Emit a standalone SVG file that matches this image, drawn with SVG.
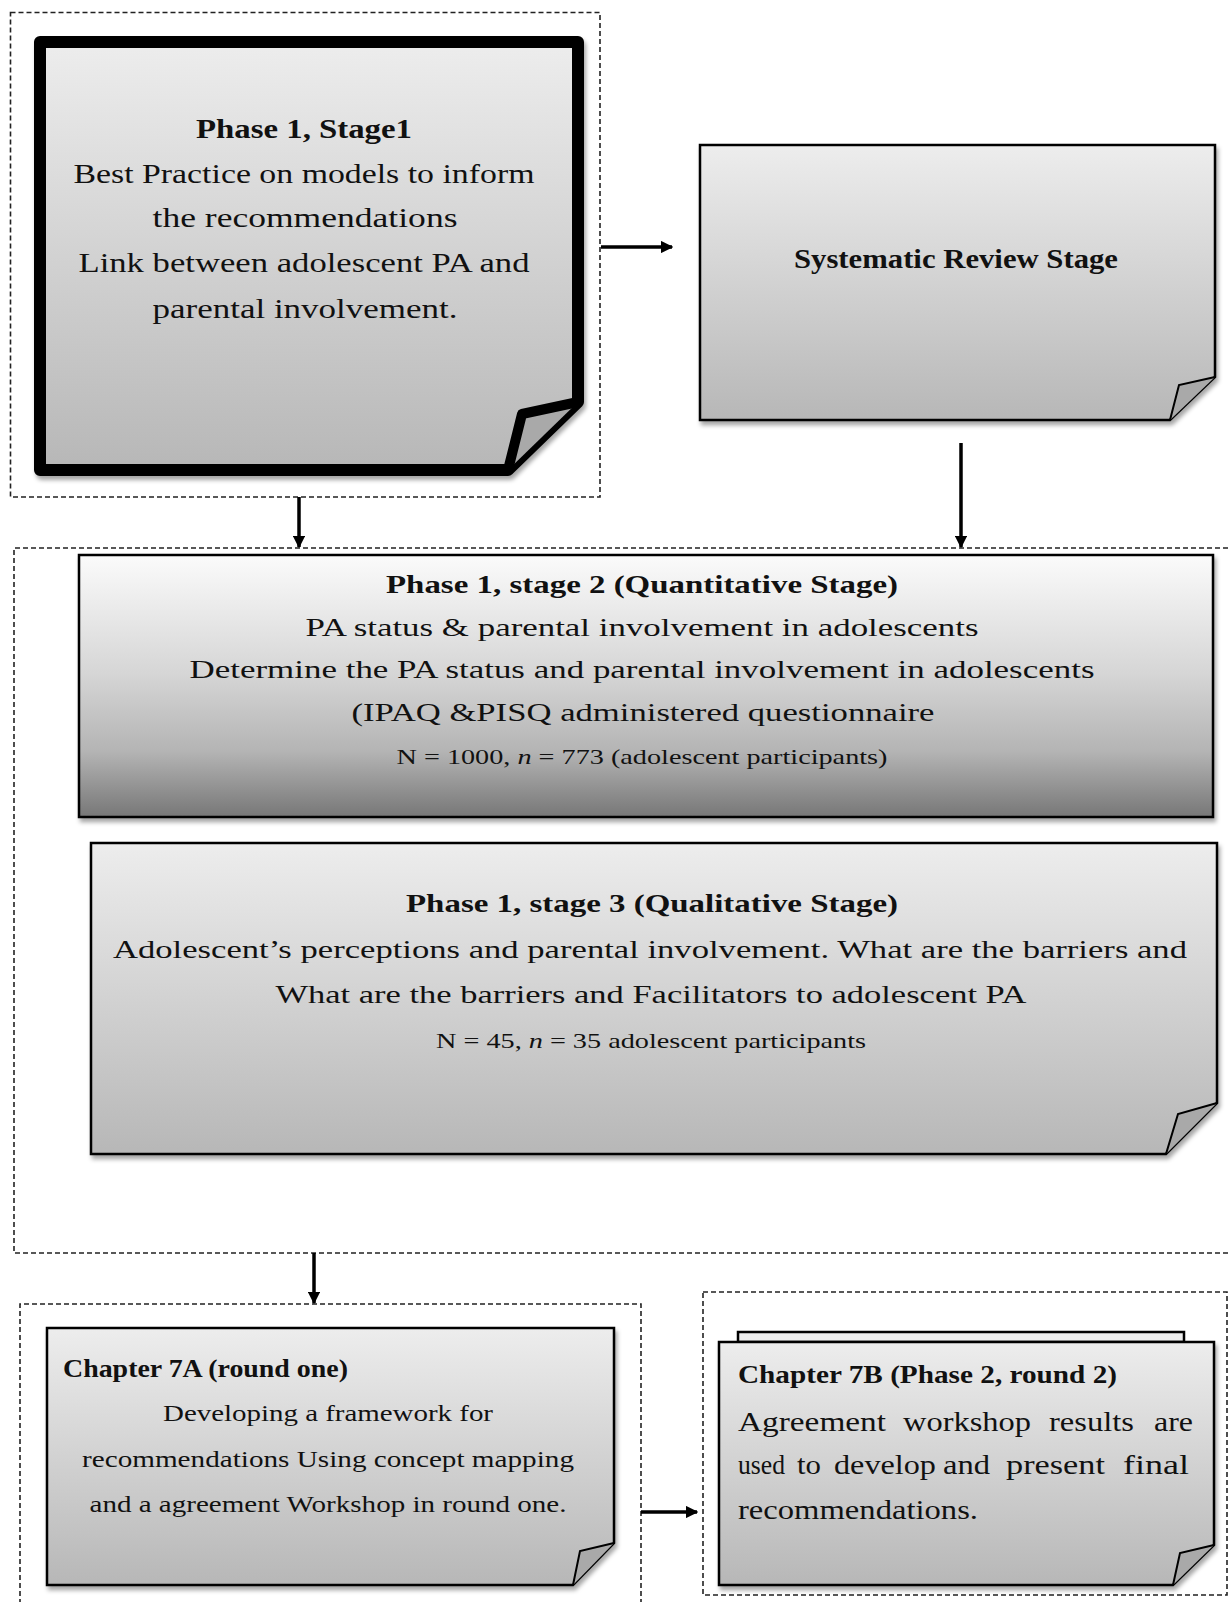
<svg xmlns="http://www.w3.org/2000/svg" width="1231" height="1602" viewBox="0 0 1231 1602">
<style>
.dash{fill:none;stroke:#222;stroke-width:1.6;stroke-dasharray:5,3}
.node{stroke:#000;stroke-width:2.5;stroke-linejoin:miter}
.fold{fill:#a9a9a9;stroke:#000;stroke-width:2}
.conn{stroke:#000;stroke-width:3.5;fill:none}
text{font-family:"Liberation Serif","Times New Roman",serif;fill:#111}
.c{text-anchor:middle}
.b{font-weight:bold}
</style>
<defs>
<linearGradient id="g1" x1="0" y1="0" x2="0" y2="1">
<stop offset="0" stop-color="#ededed"/><stop offset="1" stop-color="#b7b7b7"/>
</linearGradient>
<linearGradient id="g3" x1="0" y1="0" x2="0" y2="1">
<stop offset="0" stop-color="#fbfbfb"/><stop offset="0.45" stop-color="#d6d6d6"/><stop offset="0.75" stop-color="#b4b4b4"/><stop offset="1" stop-color="#777"/>
</linearGradient>
<filter id="sh" x="-5%" y="-5%" width="110%" height="115%">
<feDropShadow dx="2" dy="4" stdDeviation="2" flood-color="#000" flood-opacity="0.35"/>
</filter>
<marker id="ah" viewBox="0 0 10 10" refX="9" refY="5" markerWidth="3.6" markerHeight="3.6" orient="auto" markerUnits="strokeWidth">
<path d="M0,0 L10,5 L0,10 Z" fill="#000"/>
</marker>
</defs>

<g id="groups">
<rect class="dash" x="10.5" y="12.5" width="589.5" height="484.5"/>
<path class="dash" d="M1236,548 H14 V1253 H1236"/>
<path class="dash" d="M20,1620 V1304 H641 V1620"/>
<rect class="dash" x="703" y="1292" width="524" height="303"/>
</g>

<g id="connectors">
<line class="conn" x1="601" y1="247" x2="672" y2="247" marker-end="url(#ah)"/>
<line class="conn" x1="299" y1="497" x2="299" y2="547" marker-end="url(#ah)"/>
<line class="conn" x1="961" y1="443" x2="961" y2="547" marker-end="url(#ah)"/>
<line class="conn" x1="314" y1="1253" x2="314" y2="1303" marker-end="url(#ah)"/>
<line class="conn" x1="641" y1="1512" x2="697" y2="1512" marker-end="url(#ah)"/>
</g>

<g id="node1">
<path d="M40,42 H578 V402 L508,470 H40 Z" fill="url(#g1)" stroke="#000" stroke-width="12" stroke-linejoin="round" filter="url(#sh)"/>
<path d="M578,402 L522,414 L508,470" fill="#a9a9a9" stroke="#000" stroke-width="10" stroke-linejoin="round"/>
<text class="c b" x="304" y="138" font-size="27" textLength="216" lengthAdjust="spacingAndGlyphs">Phase 1, Stage1</text>
<text class="c" x="304" y="183" font-size="27" textLength="461" lengthAdjust="spacingAndGlyphs">Best Practice on models to inform</text>
<text class="c" x="305" y="227" font-size="27" textLength="305" lengthAdjust="spacingAndGlyphs">the recommendations</text>
<text class="c" x="304" y="272" font-size="27" textLength="451" lengthAdjust="spacingAndGlyphs">Link between  adolescent PA and</text>
<text class="c" x="305" y="318" font-size="27" textLength="305" lengthAdjust="spacingAndGlyphs">parental involvement.</text>
</g>

<g id="node2">
<path class="node" d="M700,145 H1215 V377 L1170,420 H700 Z" fill="url(#g1)" filter="url(#sh)"/>
<path class="fold" d="M1215,377 L1179,385 L1170,420"/>
<text class="c b" x="956" y="268" font-size="27" textLength="324" lengthAdjust="spacingAndGlyphs">Systematic Review Stage</text>
</g>

<g id="node3">
<rect class="node" x="79" y="555" width="1134" height="262" fill="url(#g3)" filter="url(#sh)"/>
<text class="c b" x="642" y="593" font-size="26" textLength="512" lengthAdjust="spacingAndGlyphs">Phase 1, stage 2 (Quantitative Stage)</text>
<text class="c" x="642" y="636" font-size="26" textLength="673" lengthAdjust="spacingAndGlyphs">PA status &amp; parental involvement in adolescents</text>
<text class="c" x="642" y="678" font-size="26" textLength="905" lengthAdjust="spacingAndGlyphs">Determine the PA status and parental involvement in adolescents</text>
<text class="c" x="643" y="721" font-size="26" textLength="583" lengthAdjust="spacingAndGlyphs">(IPAQ &amp;PISQ administered questionnaire</text>
<text class="c" x="642" y="764" font-size="22" textLength="491" lengthAdjust="spacingAndGlyphs">N = 1000, <tspan font-style="italic">n</tspan> = 773 (adolescent participants)</text>
</g>

<g id="node4">
<path class="node" d="M91,843 H1217 V1103 L1166,1154 H91 Z" fill="url(#g1)" filter="url(#sh)"/>
<path class="fold" d="M1217,1103 L1178,1114 L1166,1154"/>
<text class="c b" x="652" y="912" font-size="26" textLength="492" lengthAdjust="spacingAndGlyphs">Phase 1, stage 3 (Qualitative Stage)</text>
<text class="c" x="650" y="958" font-size="26" textLength="1074" lengthAdjust="spacingAndGlyphs">Adolescent’s perceptions and parental involvement. What are the barriers and</text>
<text class="c" x="651" y="1003" font-size="26" textLength="751" lengthAdjust="spacingAndGlyphs">What are the barriers and Facilitators to adolescent PA</text>
<text class="c" x="651" y="1048" font-size="22" textLength="430" lengthAdjust="spacingAndGlyphs">N = 45, <tspan font-style="italic">n</tspan> = 35 adolescent participants</text>
</g>

<g id="node5">
<path class="node" d="M47,1328 H614 V1543 L573,1585 H47 Z" fill="url(#g1)" filter="url(#sh)"/>
<path class="fold" d="M614,1543 L580,1551 L573,1585"/>
<text class="b" x="63" y="1377" font-size="25" textLength="285" lengthAdjust="spacingAndGlyphs">Chapter 7A (round one)</text>
<text class="c" x="328" y="1421" font-size="24" textLength="330" lengthAdjust="spacingAndGlyphs">Developing a framework for</text>
<text class="c" x="328" y="1467" font-size="24" textLength="492" lengthAdjust="spacingAndGlyphs">recommendations Using concept mapping</text>
<text class="c" x="328" y="1512" font-size="24" textLength="477" lengthAdjust="spacingAndGlyphs">and a agreement Workshop in round one.</text>
</g>

<g id="node6">
<rect x="738" y="1332" width="446" height="10" fill="#ececec" stroke="#000" stroke-width="2.5"/>
<path class="node" d="M719,1342 H1214 V1545 L1173,1585 H719 Z" fill="url(#g1)" filter="url(#sh)"/>
<path class="fold" d="M1214,1545 L1180,1553 L1173,1585"/>
<text class="b" x="738" y="1383" font-size="26" textLength="379" lengthAdjust="spacingAndGlyphs">Chapter 7B (Phase 2, round 2)</text>
<text y="1431" font-size="27" lengthAdjust="spacingAndGlyphs"><tspan x="738" textLength="148" lengthAdjust="spacingAndGlyphs">Agreement</tspan> <tspan x="903" textLength="128" lengthAdjust="spacingAndGlyphs">workshop</tspan> <tspan x="1049" textLength="85" lengthAdjust="spacingAndGlyphs">results</tspan> <tspan x="1154" textLength="39" lengthAdjust="spacingAndGlyphs">are</tspan></text>
<text y="1474" font-size="27"><tspan x="738" textLength="47" lengthAdjust="spacingAndGlyphs">used</tspan> <tspan x="797" textLength="24" lengthAdjust="spacingAndGlyphs">to</tspan> <tspan x="834" textLength="102" lengthAdjust="spacingAndGlyphs">develop</tspan> <tspan x="943" textLength="47" lengthAdjust="spacingAndGlyphs">and</tspan> <tspan x="1006" textLength="99" lengthAdjust="spacingAndGlyphs">present</tspan> <tspan x="1123" textLength="66" lengthAdjust="spacingAndGlyphs">final</tspan></text>
<text x="738" y="1519" font-size="27" textLength="240" lengthAdjust="spacingAndGlyphs">recommendations.</text>
</g>
</svg>
